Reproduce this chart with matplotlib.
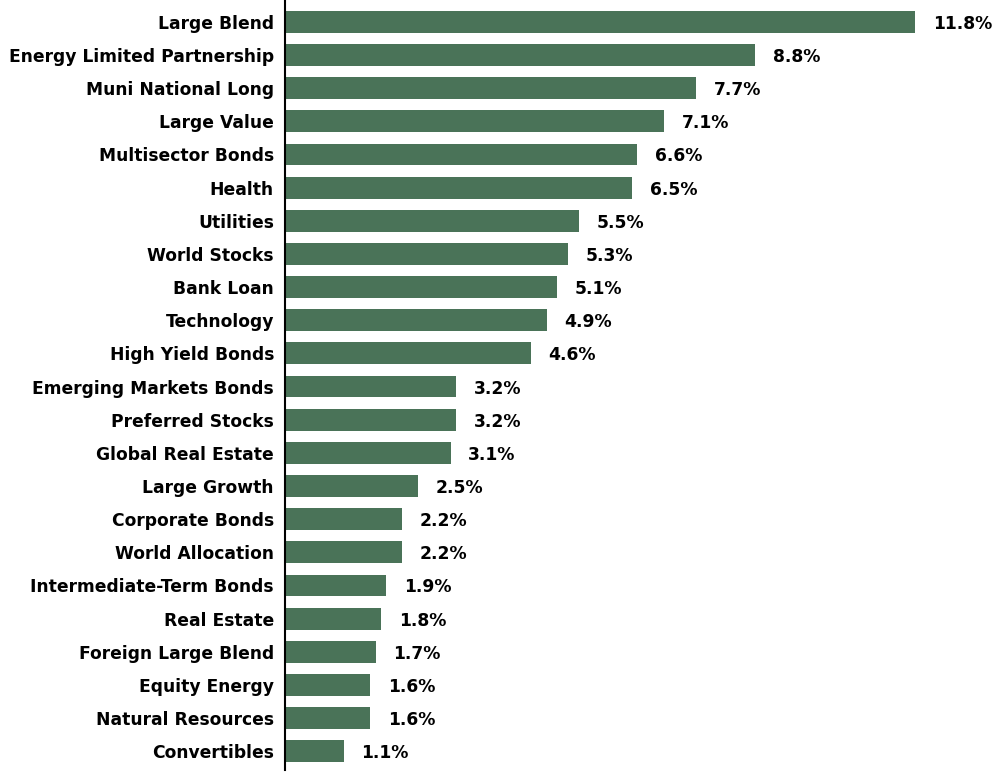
import matplotlib.pyplot as plt

categories = [
    "Large Blend", "Energy Limited Partnership", "Muni National Long",
    "Large Value", "Multisector Bonds", "Health", "Utilities",
    "World Stocks", "Bank Loan", "Technology", "High Yield Bonds",
    "Emerging Markets Bonds", "Preferred Stocks", "Global Real Estate",
    "Large Growth", "Corporate Bonds", "World Allocation",
    "Intermediate-Term Bonds", "Real Estate", "Foreign Large Blend",
    "Equity Energy", "Natural Resources", "Convertibles",
]
values = [11.8, 8.8, 7.7, 7.1, 6.6, 6.5, 5.5, 5.3, 5.1, 4.9, 4.6,
          3.2, 3.2, 3.1, 2.5, 2.2, 2.2, 1.9, 1.8, 1.7, 1.6, 1.6, 1.1]

bar_color = "#4a7358"

fig = plt.figure(figsize=(10, 7.74), dpi=100)
ax = fig.add_axes([0.285, 0.005, 0.715, 0.995])

y = list(range(len(categories)))
ax.barh(y, values, height=0.66, color=bar_color)

for yi, v in zip(y, values):
    ax.text(v + 0.33, yi + 0.06, f"{v:.1f}%", va="center", ha="left",
            fontsize=12.3, fontweight="bold", color="black")

ax.set_yticks(y)
ax.set_yticklabels(categories, fontsize=12.3, fontweight="bold")
ax.tick_params(axis="y", length=0, pad=8)
ax.set_xticks([])
ax.set_xlim(0, 13.39)
ax.set_ylim(22.57, -0.66)

for s in ["top", "right", "bottom"]:
    ax.spines[s].set_visible(False)
ax.spines["left"].set_linewidth(1.5)
ax.spines["left"].set_color("black")

fig.savefig("out.png", dpi=100)
